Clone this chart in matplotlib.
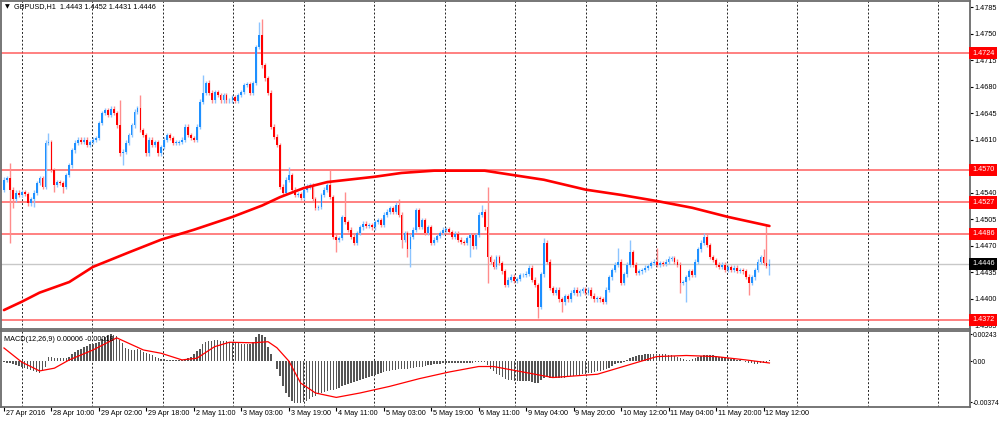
import matplotlib
matplotlib.use("Agg")
import matplotlib.pyplot as plt
import matplotlib.transforms as mtransforms
import numpy as np

# GBPUSD H1 closes, one per bar
closes = [
    1.4557, 1.4559, 1.4544, 1.4531, 1.4540, 1.4537, 1.4541, 1.4538, 1.4526, 1.4531,
    1.4540, 1.4553, 1.4559, 1.4548, 1.4606, 1.4607, 1.4570, 1.4550, 1.4554, 1.4553,
    1.4548, 1.4563, 1.4576, 1.4596, 1.4606, 1.4610, 1.4607, 1.4610, 1.4603, 1.4607,
    1.4610, 1.4612, 1.4632, 1.4645, 1.4649, 1.4643, 1.4651, 1.4645, 1.4629, 1.4592,
    1.4594, 1.4606, 1.4616, 1.4629, 1.4647, 1.4652, 1.4623, 1.4616, 1.4592, 1.4610,
    1.4603, 1.4607, 1.4592, 1.4600, 1.4610, 1.4616, 1.4612, 1.4606, 1.4606, 1.4607,
    1.4610, 1.4627, 1.4616, 1.4612, 1.4610, 1.4627, 1.4660, 1.4672, 1.4685, 1.4672,
    1.4662, 1.4673, 1.4669, 1.4662, 1.4669, 1.4662, 1.4662, 1.4666, 1.4661, 1.4669,
    1.4673, 1.4682, 1.4683, 1.4672, 1.4685, 1.4732, 1.4748, 1.4708, 1.4691, 1.4672,
    1.4627, 1.4614, 1.4603, 1.4548, 1.4540, 1.4557, 1.4563, 1.4544, 1.4537, 1.4538,
    1.4533, 1.4544, 1.4548, 1.4550, 1.4531, 1.4520, 1.4521, 1.4537, 1.4544, 1.4550,
    1.4534, 1.4482, 1.4478, 1.4480, 1.4508, 1.4501, 1.4491, 1.4482, 1.4474, 1.4487,
    1.4494, 1.4499, 1.4496, 1.4497, 1.4494, 1.4501, 1.4504, 1.4497, 1.4511, 1.4515,
    1.4520, 1.4515, 1.4524, 1.4511, 1.4478, 1.4487, 1.4465, 1.4482, 1.4491, 1.4517,
    1.4495, 1.4504, 1.4487, 1.4494, 1.4474, 1.4478, 1.4483, 1.4487, 1.4491, 1.4492,
    1.4488, 1.4482, 1.4486, 1.4478, 1.4475, 1.4474, 1.4480, 1.4484, 1.4469, 1.4484,
    1.4511, 1.4515, 1.4494, 1.4455, 1.4449, 1.4442, 1.4455, 1.4447, 1.4436, 1.4418,
    1.4425, 1.4429, 1.4424, 1.4426, 1.4431, 1.4431, 1.4433, 1.4441, 1.4425, 1.4418,
    1.4389, 1.4432, 1.4474, 1.4449, 1.4414, 1.4408, 1.4412, 1.4399, 1.4395, 1.4403,
    1.4399, 1.4408, 1.4412, 1.4407, 1.4410, 1.4413, 1.4408, 1.4412, 1.4404, 1.4399,
    1.4401, 1.4399, 1.4396, 1.4412, 1.4428, 1.4438, 1.4445, 1.4449, 1.4421, 1.4432,
    1.4445, 1.4461, 1.4445, 1.4434, 1.4436, 1.4438, 1.4441, 1.4443, 1.4447, 1.4449,
    1.4445, 1.4447, 1.4446, 1.4449, 1.4453, 1.4454, 1.4449, 1.4445, 1.4421, 1.4422,
    1.4428, 1.4436, 1.4431, 1.4449, 1.4465, 1.4474, 1.4482, 1.4471, 1.4455, 1.4451,
    1.4445, 1.4442, 1.4445, 1.4438, 1.4442, 1.4438, 1.4441, 1.4437, 1.4438, 1.4436,
    1.4429, 1.4421, 1.4428, 1.4438, 1.4449, 1.4455, 1.4447, 1.4443, 1.4446,
]
first_open = 1.4544
typical_wick = 0.0003

# notable wick extremes (bar index -> price)
high_marks = {2: 1.4579, 15: 1.4619, 39: 1.4662, 46: 1.4669, 67: 1.4695, 69: 1.4689,
              86: 1.4765, 87: 1.4769, 96: 1.4574, 110: 1.4570, 115: 1.4541, 133: 1.4531,
              161: 1.4524, 163: 1.4548, 182: 1.4480, 207: 1.4467, 211: 1.4478,
              220: 1.4467, 236: 1.4487, 256: 1.4465, 257: 1.4497, 258: 1.4452}
low_marks = {2: 1.4474, 3: 1.4520, 10: 1.4521, 17: 1.4541, 20: 1.4540, 40: 1.4576,
             112: 1.4461, 134: 1.4467, 136: 1.4455, 137: 1.4442, 157: 1.4455,
             163: 1.4421, 180: 1.4375, 188: 1.4383, 228: 1.4408, 230: 1.4395,
             251: 1.4405, 258: 1.4431}

# moving average line (bar index, price)
ma_bars = [0, 6, 12, 22, 30, 42, 53, 64, 77, 87, 93, 101, 109, 125, 134, 145, 162,
           172, 182, 196, 208, 220, 232, 244, 258]
ma_values = [1.4385, 1.4396, 1.4408, 1.4422, 1.4442, 1.4461, 1.4478, 1.4491, 1.4508,
             1.4523, 1.4534, 1.4546, 1.4554, 1.4561, 1.4566, 1.4569, 1.4569, 1.4563,
             1.4557, 1.4544, 1.4537, 1.4529, 1.4520, 1.4508, 1.4496]

levels = [1.4724, 1.4570, 1.4527, 1.4486, 1.4372]
last_price = 1.4446
price_ticks = [1.4785, 1.4750, 1.4715, 1.4680, 1.4645, 1.4610, 1.4575, 1.4540,
               1.4505, 1.4470, 1.4435, 1.4400, 1.4365]

# MACD histogram, units of 1e-5
macd_hist_1e5 = [
    -10, -15, -20, -25, -35, -45, -55, -65, -75, -85,
    -90, -100, -110, -85, -50, 35, 40, 30, 25, 25,
    30, 30, 35, 60, 80, 100, 110, 130, 140, 150,
    155, 160, 170, 200, 220, 240, 245, 240, 225, 190,
    160, 120, 105, 100, 100, 105, 100, 85, 70, 60,
    50, 40, 30, 20, 15, 10, 10, 10, 10, 10,
    12, 15, 25, 40, 60, 90, 110, 150, 170, 180,
    185, 190, 190, 185, 185, 180, 175, 170, 165, 160,
    155, 150, 150, 155, 170, 220, 245, 235, 215, 130,
    60, 0, -70, -140, -230, -290, -330, -360, -380, -385,
    -380, -370, -360, -345, -330, -315, -300, -290, -280, -270,
    -260, -260, -255, -245, -230, -220, -210, -200, -190, -180,
    -175, -165, -155, -145, -135, -125, -115, -110, -100, -95,
    -90, -85, -80, -75, -75, -70, -70, -65, -60, -55,
    -55, -50, -45, -40, -35, -30, -28, -25, -22, -20,
    -20, -18, -18, -18, -18, -20, -20, -18, -15, -10,
    -5, -5, -10, -40, -70, -95, -115, -130, -145, -160,
    -170, -175, -180, -180, -180, -180, -185, -185, -190, -195,
    -200, -175, -150, -145, -150, -155, -155, -155, -155, -150,
    -145, -140, -135, -130, -125, -120, -115, -110, -105, -100,
    -95, -90, -85, -75, -60, -45, -30, -20, -15, -5,
    10, 30, 40, 45, 50, 55, 60, 65, 65, 65,
    65, 65, 60, 60, 55, 50, 45, 40, 30, 20,
    10, 10, 15, 25, 35, 45, 50, 55, 55, 50,
    45, 40, 35, 30, 25, 20, 15, 10, 5, 0,
    -5, -15, -20, -25, -25, -20, -15, -10, 6,
]
signal_bars = [0, 6, 12, 17, 22, 30, 38, 47, 53, 60, 65, 71, 76, 84, 89, 92, 96, 100,
               105, 112, 120, 130, 140, 150, 160, 165, 175, 185, 200, 210, 220, 230,
               240, 250, 258]
signal_1e5 = [118, -10, -90, -65, 10, 100, 210, 100, 70, 10, 25, 130, 170, 165, 175,
              120, 0, -200, -290, -330, -290, -230, -160, -100, -50, -50, -100, -150,
              -120, -40, 40, 50, 40, 10, -18]

time_labels = ["27 Apr 2016", "28 Apr 10:00", "29 Apr 02:00", "29 Apr 18:00",
               "2 May 11:00", "3 May 03:00", "3 May 19:00", "4 May 11:00",
               "5 May 03:00", "5 May 19:00", "6 May 11:00", "9 May 04:00",
               "9 May 20:00", "10 May 12:00", "11 May 04:00", "11 May 20:00",
               "12 May 12:00"]
label_step = 16

FONT = ["Liberation Sans", "DejaVu Sans"]
plt.rcParams["font.family"] = FONT
FS = 5.2

fig = plt.figure(figsize=(10, 4.23), dpi=100)
ax = fig.add_axes([0.001, 1 - 329 / 423, 0.969, 328 / 423])
axm = fig.add_axes([0.001, 1 - 407 / 423, 0.969, 76 / 423], sharex=ax)

n = len(closes)
idx = np.arange(n)
c = np.array(closes)
o = np.array([first_open] + closes[:-1])
hi = np.maximum(o, c) + typical_wick
lo = np.minimum(o, c) - typical_wick
for k, v in high_marks.items():
    hi[k] = v
for k, v in low_marks.items():
    lo[k] = v
up = c >= o

# candles
ax.vlines(idx[up], lo[up], hi[up], color="#8cc4ff", lw=1.0, zorder=3)
ax.vlines(idx[~up], lo[~up], hi[~up], color="#ff8c8c", lw=1.0, zorder=3)
body_h = np.maximum(np.abs(c - o), 0.00008)
ax.bar(idx[up], body_h[up], bottom=np.minimum(o, c)[up], width=0.62,
       color="#1e90ff", linewidth=0, zorder=4)
ax.bar(idx[~up], body_h[~up], bottom=np.minimum(o, c)[~up], width=0.62,
       color="#ff0000", linewidth=0, zorder=4)

# moving average
ax.plot(ma_bars, ma_values, color="#ff0000", lw=1.9, zorder=5, solid_capstyle="round")

# horizontal levels
for lv in levels:
    ax.axhline(lv, color="#ff5050", lw=1.2, alpha=0.85, zorder=2)
ax.axhline(last_price, color="#c8c8c8", lw=1.0, zorder=2)

# vertical dashed grid
grid_pos = 6.06 + 23.75 * np.arange(14)
for a in (ax, axm):
    for g in grid_pos:
        a.axvline(g, color="#222222", lw=0.7, ls=(0, (2, 2)), zorder=1)

ax.set_xlim(-1.0, 325.6)
ax.set_ylim(1.4360, 1.4793)
ax.yaxis.tick_right()
ax.set_yticks(price_ticks)
ax.set_yticklabels([f"{t:.4f}" for t in price_ticks])
ax.tick_params(axis="y", labelsize=FS, length=2, pad=1.2, colors="#000000")
ax.tick_params(axis="x", bottom=False, labelbottom=False)

trans = mtransforms.blended_transform_factory(ax.transAxes, ax.transData)
for lv in levels:
    ax.text(1.002, lv, f"{lv:.4f}", transform=trans, fontsize=FS, color="white",
            va="center", ha="left", zorder=10, clip_on=False,
            bbox=dict(boxstyle="square,pad=0.35", fc="#ff0000", ec="none"))
ax.text(1.002, last_price, f"{last_price:.4f}", transform=trans, fontsize=FS,
        color="white", va="center", ha="left", zorder=10, clip_on=False,
        bbox=dict(boxstyle="square,pad=0.35", fc="#000000", ec="none"))

# MACD panel
hist = np.array(macd_hist_1e5) * 1e-5
axm.bar(idx, hist, width=0.5, color="#555555", linewidth=0, zorder=3)
axm.plot(signal_bars, np.array(signal_1e5) * 1e-5, color="#ff0000", lw=0.9, zorder=4)
axm.set_ylim(-0.00417, 0.00272)
axm.yaxis.tick_right()
axm.set_yticks([0.00243, 0.0, -0.00374])
axm.set_yticklabels(["0.00243", "0.00", "-0.00374"])
axm.tick_params(axis="y", labelsize=4.9, length=1.5, pad=0.6)
axm.tick_params(axis="x", length=3, labelbottom=False)
axm.set_xticks([label_step * k for k in range(len(time_labels))])
xlab_trans = mtransforms.blended_transform_factory(axm.transData, axm.transAxes)
for k, lab in enumerate(time_labels):
    axm.text(label_step * k + 0.6, -0.08, lab, transform=xlab_trans, fontsize=FS,
             ha="left", va="center", clip_on=False)

for a in (ax, axm):
    for s in a.spines.values():
        s.set_color("#6b6b6b")
        s.set_linewidth(1.3)

fig.text(0.005, 1 - 7 / 423, "\u25bc", fontsize=4.5, va="center", ha="left",
         family=["DejaVu Sans"])
fig.text(0.014, 1 - 7 / 423, "GBPUSD,H1  1.4443 1.4452 1.4431 1.4446", fontsize=FS,
         va="center", ha="left")
fig.text(0.004, 1 - 339 / 423, "MACD(12,26,9) 0.00006 -0.00018", fontsize=FS,
         va="center", ha="left", zorder=1)

fig.savefig("out.png", dpi=100)
